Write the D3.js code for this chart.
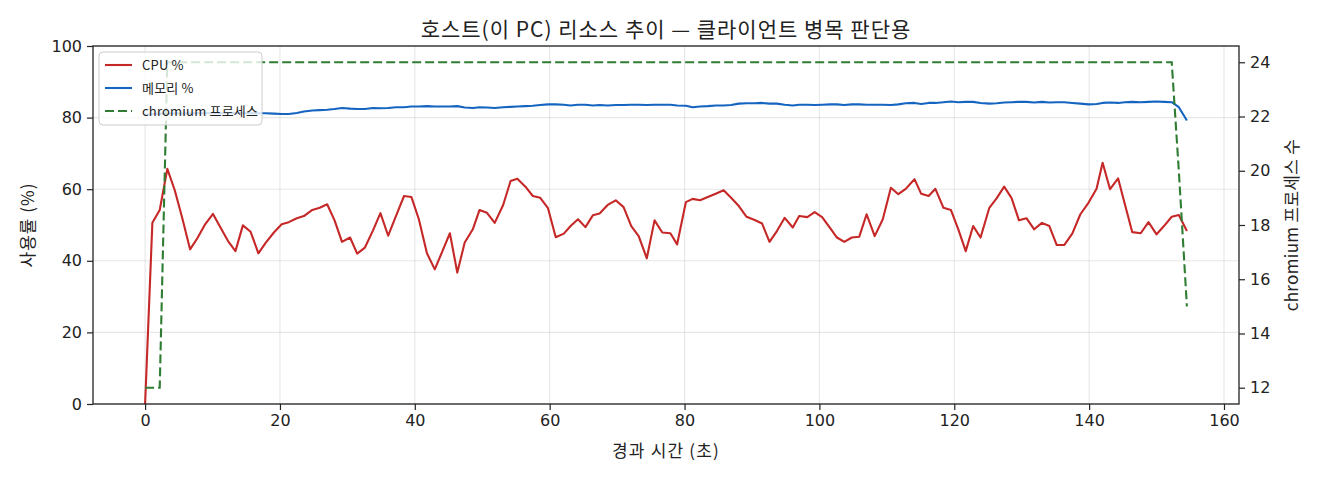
<!DOCTYPE html>
<html>
<head>
<meta charset="utf-8">
<script src="https://cdn.jsdelivr.net/npm/d3@7"></script>
<style>
  body { margin: 0; background: #fff; }
  #chart text { fill: #222; }
</style>
</head>
<body>
<div id="chart"></div>
<script>
// elapsed seconds of each sample
const times = [
  0, 1.08, 2.17, 3.3, 4.4, 5.5, 6.67, 7.75, 8.9, 10.07,
  11.2, 12.3, 13.4, 14.5, 15.65, 16.8, 17.9, 19.1, 20.25, 21.3,
  22.5, 23.55, 24.8, 25.9, 27.0, 28.1, 29.2, 30.4, 31.45, 32.6,
  33.8, 34.9, 36.05, 37.2, 38.4, 39.5, 40.6, 41.8, 42.96, 44.05,
  45.2, 46.3, 47.4, 48.6, 49.6, 50.7, 51.85, 53.1, 54.2, 55.2,
  56.4, 57.5, 58.6, 59.75, 60.9, 62.1, 63.1, 64.2, 65.3, 66.4,
  67.4, 68.6, 69.8, 70.96, 72.1, 73.2, 74.4, 75.55, 76.7, 77.9,
  78.9, 80.2, 81.2, 82.3, 83.45, 84.7, 85.8, 86.9, 88.05, 89.2,
  90.4, 91.5, 92.6, 93.7, 94.85, 96.05, 97.0, 98.2, 99.3, 100.4,
  101.6, 102.6, 103.7, 104.8, 105.9, 107.0, 108.2, 109.4, 110.6, 111.7,
  112.8, 114.1, 115.1, 116.2, 117.2, 118.4, 119.5, 120.6, 121.7, 122.8,
  123.9, 125.2, 126.3, 127.4, 128.5, 129.6, 130.7, 131.85, 133.0, 134.1,
  135.2, 136.3, 137.5, 138.7, 139.9, 141.1, 142.0, 143.1, 144.3, 145.3,
  146.4, 147.65, 148.8, 150.0, 151.1, 152.25, 153.3, 154.5
];

const cpuPct = [
  0, 50.6, 54.2, 65.7, 59.7, 52.0, 43.2, 46.3, 50.2, 53.1,
  49.2, 45.5, 42.7, 49.9, 48.1, 42.1, 45.1, 47.9, 50.2, 50.8,
  51.9, 52.5, 54.2, 54.8, 55.8, 51.3, 45.3, 46.5, 42.0, 43.7,
  48.5, 53.3, 47.0, 52.5, 58.1, 57.8, 51.6, 42.1, 37.6, 42.5,
  47.7, 36.7, 45.1, 48.8, 54.2, 53.4, 50.6, 55.6, 62.3, 62.9,
  60.7, 58.1, 57.6, 54.7, 46.6, 47.6, 49.7, 51.6, 49.4, 52.7,
  53.2, 55.6, 56.9, 55.0, 49.7, 46.9, 40.7, 51.3, 47.9, 47.7,
  44.6, 56.4, 57.3, 56.9, 57.8, 58.8, 59.7, 57.6, 55.3, 52.3,
  51.4, 50.4, 45.3, 48.3, 52.0, 49.3, 52.5, 52.2, 53.6, 52.2,
  49.1, 46.5, 45.3, 46.5, 46.7, 53.0, 46.9, 51.6, 60.4, 58.6,
  60.1, 62.8, 58.7, 58.1, 60.1, 54.8, 54.2, 48.8, 42.7, 49.7,
  46.5, 54.8, 57.5, 60.7, 57.5, 51.3, 51.9, 48.8, 50.6, 49.7,
  44.4, 44.4, 47.6, 53.0, 56.2, 60.1, 67.4, 60.0, 63.0, 55.8,
  48.0, 47.7, 50.8, 47.4, 49.7, 52.3, 52.8, 48.3
];

const memPct = [
  80.8, 81.0, 81.1, 81.0, 81.2, 81.1, 81.2, 81.3, 81.2, 81.3,
  81.2, 81.3, 81.3, 81.2, 81.3, 81.2, 81.2, 81.1, 81.0, 81.0,
  81.3, 81.7, 82.0, 82.1, 82.2, 82.4, 82.7, 82.5, 82.4, 82.4,
  82.7, 82.6, 82.7, 82.9, 82.9, 83.1, 83.1, 83.2, 83.1, 83.1,
  83.1, 83.2, 82.8, 82.7, 82.9, 82.8, 82.7, 82.9, 83.0, 83.1,
  83.2, 83.3, 83.5, 83.7, 83.7, 83.6, 83.4, 83.6, 83.6, 83.4,
  83.5, 83.4, 83.5, 83.5, 83.6, 83.6, 83.5, 83.6, 83.6, 83.6,
  83.4, 83.3, 82.9, 83.1, 83.2, 83.4, 83.4, 83.5, 83.9, 84.0,
  84.0, 84.1, 83.9, 83.9, 83.6, 83.4, 83.6, 83.6, 83.5, 83.6,
  83.7, 83.7, 83.5, 83.7, 83.7, 83.6, 83.6, 83.6, 83.5, 83.7,
  84.0, 84.1, 83.8, 84.1, 84.1, 84.3, 84.5, 84.3, 84.4, 84.4,
  84.1, 83.9, 84.0, 84.2, 84.3, 84.4, 84.4, 84.2, 84.4, 84.2,
  84.3, 84.3, 84.1, 83.9, 83.7, 83.8, 84.1, 84.2, 84.1, 84.3,
  84.4, 84.3, 84.4, 84.5, 84.4, 84.3, 82.9, 79.2
];

const chromiumProcs = [
  12, 12, 12, 24, 24, 24, 24, 24, 24, 24,
  24, 24, 24, 24, 24, 24, 24, 24, 24, 24,
  24, 24, 24, 24, 24, 24, 24, 24, 24, 24,
  24, 24, 24, 24, 24, 24, 24, 24, 24, 24,
  24, 24, 24, 24, 24, 24, 24, 24, 24, 24,
  24, 24, 24, 24, 24, 24, 24, 24, 24, 24,
  24, 24, 24, 24, 24, 24, 24, 24, 24, 24,
  24, 24, 24, 24, 24, 24, 24, 24, 24, 24,
  24, 24, 24, 24, 24, 24, 24, 24, 24, 24,
  24, 24, 24, 24, 24, 24, 24, 24, 24, 24,
  24, 24, 24, 24, 24, 24, 24, 24, 24, 24,
  24, 24, 24, 24, 24, 24, 24, 24, 24, 24,
  24, 24, 24, 24, 24, 24, 24, 24, 24, 24,
  24, 24, 24, 24, 24, 24, 20, 15
];

const xTicks = [0, 20, 40, 60, 80, 100, 120, 140, 160];
const yTicksLeft = [0, 20, 40, 60, 80, 100];
const yTicksRight = [12, 14, 16, 18, 20, 22, 24];
const seriesNames = ["CPU %", "메모리 %", "chromium 프로세스"];

const title = "호스트(이 PC) 리소스 추이 — 클라이언트 병목 판단용";
const xLabel = "경과 시간 (초)";
const yLabelLeft = "사용률 (%)";
const yLabelRight = "chromium 프로세스 수";

const W = 1320, H = 480;
const margin = { left: 93, top: 46, right: 81, bottom: 76 };
const width = W - margin.left - margin.right;
const height = H - margin.top - margin.bottom;
const font = '"Noto Sans CJK KR", "Noto Sans", sans-serif';
const numFont = '"DejaVu Sans", sans-serif';
const colors = { cpu: "#c62828", mem: "#1565c0", chrom: "#2e7d32" };

const svg = d3.select("#chart").append("svg")
  .attr("width", W).attr("height", H)
  .style("font-family", font);

// x padded 5% each side like matplotlib autoscale
const xPad = (d3.max(times) - d3.min(times)) * 0.05;
const x = d3.scaleLinear()
  .domain([d3.min(times) - xPad, d3.max(times) + xPad])
  .range([0, width]);
const yLeft = d3.scaleLinear().domain([0, 100]).range([height, 0]);
const cPad = (d3.max(chromiumProcs) - d3.min(chromiumProcs)) * 0.05;
const yRight = d3.scaleLinear()
  .domain([d3.min(chromiumProcs) - cPad, d3.max(chromiumProcs) + cPad])
  .range([height, 0]);

const g = svg.append("g")
  .attr("transform", `translate(${margin.left},${margin.top})`);

g.append("clipPath").attr("id", "clip")
  .append("rect").attr("width", width).attr("height", height);

// grid
g.append("g").selectAll("line").data(xTicks).enter().append("line")
  .attr("x1", d => x(d)).attr("x2", d => x(d))
  .attr("y1", 0).attr("y2", height)
  .attr("stroke", "#b0b0b0").attr("stroke-opacity", 0.3).attr("stroke-width", 1.1);
g.append("g").selectAll("line").data(yTicksLeft).enter().append("line")
  .attr("x1", 0).attr("x2", width)
  .attr("y1", d => yLeft(d)).attr("y2", d => yLeft(d))
  .attr("stroke", "#b0b0b0").attr("stroke-opacity", 0.3).attr("stroke-width", 1.1);

const plot = g.append("g").attr("clip-path", "url(#clip)");

const lineLeft = vals => d3.line()
  .x((d, i) => x(times[i]))
  .y(d => yLeft(d))(vals);

plot.append("path")
  .attr("d", lineLeft(cpuPct))
  .attr("fill", "none").attr("stroke", colors.cpu)
  .attr("stroke-width", 2.1).attr("stroke-linejoin", "round");

plot.append("path")
  .attr("d", lineLeft(memPct))
  .attr("fill", "none").attr("stroke", colors.mem)
  .attr("stroke-width", 2.1).attr("stroke-linejoin", "round");

// legend (belongs to the left axes, so the twin line draws over it)
const legend = g.append("g").attr("transform", "translate(6,6)");
legend.append("rect")
  .attr("width", 163).attr("height", 73).attr("rx", 4)
  .attr("fill", "#fff").attr("fill-opacity", 0.8)
  .attr("stroke", "#ccc").attr("stroke-width", 1);
const legendItems = [
  { name: seriesNames[0], color: colors.cpu, dash: null },
  { name: seriesNames[1], color: colors.mem, dash: null },
  { name: seriesNames[2], color: colors.chrom, dash: "9,4" }
];
const li = legend.selectAll("g.item").data(legendItems).enter().append("g")
  .attr("class", "item")
  .attr("transform", (d, i) => `translate(0,${13 + i * 23})`);
li.append("line")
  .attr("x1", 6).attr("x2", 33).attr("y1", 0).attr("y2", 0)
  .attr("stroke", d => d.color).attr("stroke-width", 2.1)
  .attr("stroke-dasharray", d => d.dash);
li.append("text")
  .attr("x", 43).attr("dy", "0.35em")
  .style("font-size", "13px")
  .style("letter-spacing", "0.2px")
  .text(d => d.name);

// chromium count on the twin axis
plot.append("path")
  .attr("d", d3.line().x((d, i) => x(times[i])).y(d => yRight(d))(chromiumProcs))
  .attr("fill", "none").attr("stroke", colors.chrom)
  .attr("stroke-width", 2.1).attr("stroke-dasharray", "9,4");

// axes
const xAxis = g.append("g")
  .attr("transform", `translate(0,${height})`)
  .call(d3.axisBottom(x).tickValues(xTicks).tickSize(6).tickPadding(5));
const yAxisL = g.append("g")
  .call(d3.axisLeft(yLeft).tickValues(yTicksLeft).tickSize(6).tickPadding(5));
const yAxisR = g.append("g")
  .attr("transform", `translate(${width},0)`)
  .call(d3.axisRight(yRight).tickValues(yTicksRight).tickSize(6).tickPadding(5));

[xAxis, yAxisL, yAxisR].forEach(a => {
  a.select(".domain").remove();
  a.selectAll(".tick line").attr("stroke", "#222").attr("stroke-width", 1.2);
  a.selectAll(".tick text")
    .style("font-size", "16px").style("font-family", numFont).attr("fill", "#222");
});

// frame
g.append("rect")
  .attr("width", width).attr("height", height)
  .attr("fill", "none").attr("stroke", "#222").attr("stroke-width", 1.3);

// titles
svg.append("text")
  .attr("x", margin.left + width / 2).attr("y", 37)
  .attr("text-anchor", "middle")
  .style("font-size", "21px")
  .style("letter-spacing", "1px")
  .text(title);

svg.append("text")
  .attr("x", margin.left + width / 2).attr("y", 457)
  .attr("text-anchor", "middle")
  .style("font-size", "17px")
  .style("letter-spacing", "1.2px")
  .text(xLabel);

svg.append("text")
  .attr("transform", `translate(34,${margin.top + height / 2}) rotate(-90)`)
  .attr("text-anchor", "middle")
  .style("font-size", "17px")
  .style("letter-spacing", "1px")
  .text(yLabelLeft);

svg.append("text")
  .attr("transform", `translate(1298,${margin.top + height / 2}) rotate(-90)`)
  .attr("text-anchor", "middle")
  .style("font-size", "17px")
  .style("letter-spacing", "0.3px")
  .text(yLabelRight);
</script>
</body>
</html>
